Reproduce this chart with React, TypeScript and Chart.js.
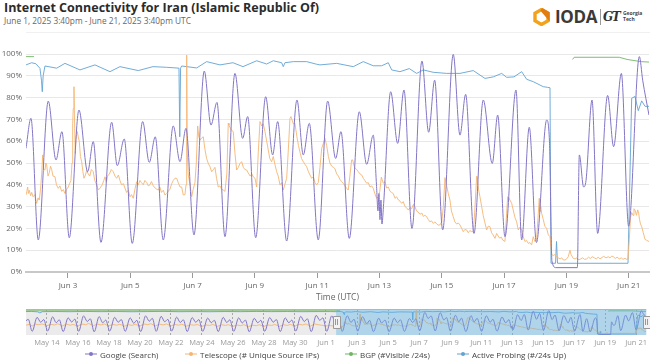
import React, { useEffect, useRef } from "react";
import { Chart, registerables } from "chart.js";
Chart.register(...registerables);

const FONT = "'Open Sans', 'Noto Sans', sans-serif";
const PURPLE = "#8376c6";
const ORANGE = "#f5b673";
const GREEN = "#72b562";
const BLUE = "#62a3d2";

// x values: days since 2025-06-01 00:00 UTC
const X_MIN = 0.6528; // Jun 1 15:40
const X_MAX = 20.6528; // Jun 21 15:40

const googleDays = [0.652, 0.812, 1.047, 1.368, 1.615, 1.807, 2.042, 2.353, 2.632, 2.812, 3.059, 3.403, 3.583, 3.807, 4.064, 4.398, 4.61, 4.803, 5.059, 5.38, 5.596, 5.788, 6.045, 6.376, 6.591, 6.783, 7.04, 7.361, 7.608, 7.769, 8.026, 8.347, 8.571, 8.732, 9.021, 9.352, 9.554, 9.747, 10.035, 10.337, 10.594, 10.764, 11.031, 11.352, 11.589, 11.801, 11.904, 11.952, 11.984, 12.016, 12.048, 12.08, 12.128, 12.36, 12.584, 12.787, 13.043, 13.364, 13.579, 13.772, 14.029, 14.369, 14.584, 14.767, 15.034, 15.332, 15.621, 15.795, 16.029, 16.383, 16.565, 16.809, 17.04, 17.368, 17.457, 17.537, 17.666, 18.352, 18.416, 18.554, 18.631, 18.824, 19.004, 19.325, 19.517, 19.765, 19.999, 20.343, 20.45, 20.652];
const googleValues = [56.7, 70.5, 14.7, 78.4, 51.4, 64.4, 15.7, 74.3, 46, 59.8, 13.6, 68.7, 48.8, 61, 13.1, 69, 50.3, 62, 14.7, 67, 50.6, 65.9, 17, 92.2, 67.4, 77.8, 16.2, 91.1, 61.3, 71.3, 15.7, 80.4, 53.7, 69, 14.2, 78.9, 53.7, 68.2, 14.7, 78.4, 52.1, 64.4, 15.4, 73.5, 49.4, 62.8, 40, 28, 36, 24, 33, 22, 30, 82.7, 59, 83.5, 20, 96.8, 64.1, 88, 19.3, 99.8, 62.8, 81.5, 17.7, 78.9, 49.8, 72, 16.2, 83.5, 14.7, 66.4, 13.5, 69.7, 60, 5, 2, 2, 53.7, 39, 42, 78.9, 17.7, 81, 57.5, 91.1, 21, 98.8, 88, 72];

const telescopeDays = [0.652, 0.68, 0.706, 0.73, 0.758, 0.8, 0.835, 0.88, 0.941, 0.97, 0.995, 1.04, 1.079, 1.12, 1.156, 1.188, 1.22, 1.262, 1.29, 1.316, 1.36, 1.4, 1.44, 1.477, 1.52, 1.583, 1.63, 1.689, 1.74, 1.798, 1.85, 1.904, 1.96, 2.01, 2.05, 2.096, 2.13, 2.151, 2.17, 2.193, 2.215, 2.234, 2.26, 2.299, 2.33, 2.363, 2.4, 2.44, 2.48, 2.514, 2.56, 2.6, 2.652, 2.7, 2.75, 2.812, 2.86, 2.92, 2.973, 3.03, 3.1, 3.15, 3.19, 3.23, 3.27, 3.33, 3.39, 3.454, 3.51, 3.563, 3.62, 3.669, 3.72, 3.78, 3.83, 3.88, 3.94, 3.99, 4.04, 4.096, 4.15, 4.205, 4.26, 4.311, 4.36, 4.417, 4.47, 4.53, 4.58, 4.632, 4.68, 4.74, 4.8, 4.848, 4.899, 4.95, 5.0, 5.06, 5.114, 5.169, 5.22, 5.275, 5.33, 5.38, 5.435, 5.49, 5.54, 5.596, 5.65, 5.702, 5.756, 5.79, 5.811, 5.83, 5.862, 5.92, 5.971, 6.02, 6.077, 6.12, 6.164, 6.2, 6.238, 6.292, 6.344, 6.4, 6.453, 6.5, 6.559, 6.613, 6.67, 6.719, 6.77, 6.825, 6.88, 6.93, 6.986, 7.04, 7.1, 7.146, 7.169, 7.21, 7.255, 7.307, 7.361, 7.416, 7.47, 7.522, 7.576, 7.63, 7.68, 7.737, 7.788, 7.85, 7.9, 7.949, 8.003, 8.058, 8.11, 8.164, 8.22, 8.27, 8.324, 8.38, 8.43, 8.48, 8.539, 8.591, 8.65, 8.7, 8.75, 8.806, 8.86, 8.912, 8.96, 9.021, 9.07, 9.127, 9.159, 9.233, 9.287, 9.35, 9.4, 9.448, 9.5, 9.56, 9.608, 9.663, 9.72, 9.77, 9.823, 9.875, 9.93, 9.984, 10.035, 10.09, 10.145, 10.2, 10.25, 10.305, 10.36, 10.41, 10.47, 10.52, 10.571, 10.626, 10.68, 10.73, 10.78, 10.838, 10.89, 10.947, 10.998, 11.05, 11.107, 11.14, 11.18, 11.213, 11.27, 11.32, 11.374, 11.43, 11.48, 11.53, 11.589, 11.64, 11.694, 11.75, 11.801, 11.85, 11.91, 11.961, 12.01, 12.06, 12.122, 12.177, 12.23, 12.283, 12.34, 12.39, 12.443, 12.498, 12.55, 12.61, 12.66, 12.713, 12.764, 12.82, 12.87, 12.925, 12.98, 13.033, 13.09, 13.139, 13.19, 13.24, 13.3, 13.36, 13.41, 13.46, 13.515, 13.57, 13.621, 13.67, 13.727, 13.78, 13.84, 13.89, 13.942, 14.0, 14.05, 14.103, 14.15, 14.209, 14.263, 14.31, 14.369, 14.42, 14.478, 14.53, 14.584, 14.64, 14.69, 14.74, 14.798, 14.85, 14.9, 14.96, 15.011, 15.06, 15.12, 15.139, 15.18, 15.226, 15.281, 15.33, 15.387, 15.441, 15.49, 15.547, 15.6, 15.65, 15.708, 15.762, 15.81, 15.86, 15.91, 15.955, 16.029, 16.07, 16.116, 16.135, 16.19, 16.244, 16.3, 16.35, 16.404, 16.456, 16.51, 16.565, 16.62, 16.671, 16.72, 16.777, 16.83, 16.885, 16.937, 16.99, 17.046, 17.09, 17.13, 17.152, 17.18, 17.207, 17.26, 17.31, 17.367, 17.421, 17.475, 17.5, 17.53, 17.58, 17.63, 17.69, 17.74, 17.8, 17.85, 17.902, 17.957, 18.01, 18.06, 18.117, 18.15, 18.223, 18.28, 18.34, 18.4, 18.46, 18.52, 18.58, 18.653, 18.71, 18.77, 18.83, 18.9, 18.96, 19.02, 19.08, 19.14, 19.2, 19.27, 19.347, 19.4, 19.46, 19.507, 19.57, 19.63, 19.7, 19.76, 19.82, 19.88, 19.936, 19.98, 20.02, 20.06, 20.097, 20.14, 20.17, 20.203, 20.25, 20.29, 20.32, 20.35, 20.38, 20.418, 20.47, 20.524, 20.58, 20.652];
const telescopeValues = [35.3, 37, 39, 36, 37.5, 35, 36.5, 34.5, 35.5, 33, 31.5, 34, 33, 38, 45, 53.7, 47, 46.8, 50, 49, 44, 45.5, 48.5, 47, 44, 43.7, 40, 38.4, 39.5, 37, 37.8, 36, 38, 39, 40.5, 42, 50, 68, 75, 85, 66, 54.4, 62, 64.4, 62, 60, 53, 50.6, 46, 43, 44.5, 46.5, 45, 44, 47, 46, 42, 40, 37.6, 38.5, 40, 42, 43.7, 41, 44, 45, 47, 46, 44, 43, 44.5, 42, 40, 40.5, 38.5, 36.5, 37.5, 34.5, 35.5, 33.8, 38, 41.4, 40, 42, 41, 40, 42, 41, 39.5, 40, 41.5, 39.5, 38.5, 38, 37.6, 39, 36.5, 37.5, 35.3, 36, 37, 38, 40.5, 42, 43, 43, 41, 39, 39, 35.3, 35.5, 40, 99.5, 55, 44.5, 40, 34.5, 38, 41, 50, 67, 62, 60.5, 61.5, 62, 56, 52, 50, 48.3, 46, 47, 48, 43, 39, 39.5, 38, 37.6, 37, 45, 68.2, 67.4, 66, 65, 64.4, 54.4, 46.8, 48, 49.8, 50.6, 48, 47, 46.8, 45.4, 44, 45, 43.7, 43, 39, 55, 69, 67, 68, 64.4, 60, 56, 52, 50.6, 53, 49, 46, 44, 40, 41, 37.6, 40, 43, 55, 70.5, 71.3, 68, 68.2, 62, 58, 55, 52, 50.5, 49.4, 48.3, 46, 44.5, 43, 43.7, 41, 40, 41, 48, 56.7, 59, 61.3, 58, 53, 50, 48.5, 48, 47.4, 45, 44, 42.5, 41.5, 40.7, 39.5, 38.4, 37.6, 44, 51.4, 51.4, 49, 47.6, 47, 46, 45, 44.5, 43, 42, 40.7, 41, 39, 39.5, 38.4, 36, 33.8, 34.5, 37, 43.5, 40.7, 41.4, 38.5, 39, 37, 36.5, 36, 33.8, 34.5, 33, 32.5, 31.5, 32.3, 30, 29.5, 28.4, 29.5, 29, 31, 30, 28, 27.5, 26.5, 27, 25.5, 26, 25.4, 24, 23, 23.5, 22.3, 23, 22, 21.5, 21.6, 23, 30, 43.3, 40, 36, 33, 28, 25.4, 23, 22, 22.5, 21.6, 20, 18.5, 19.5, 19.3, 18, 19, 18.5, 18.5, 28, 44, 43.7, 38, 34.5, 30, 26, 22.5, 19.3, 21, 20.8, 18, 17, 15.4, 17.7, 16.5, 15.5, 16, 14.7, 14, 24, 34.5, 34.5, 33, 31.5, 28, 25, 23, 19.3, 20.5, 19.3, 16, 14, 14.5, 13.1, 13.5, 12.4, 16.2, 14, 15, 25, 33.8, 27.7, 30, 26.9, 24, 21, 20, 17, 16.2, 12, 8, 7.5, 8, 7, 6.5, 6, 6.5, 5.5, 5.5, 6, 7, 10, 8, 6.2, 6, 6.5, 5.5, 6, 6.5, 5.8, 6, 6.8, 6.2, 7, 6.5, 6, 6.8, 6, 6.6, 7.2, 6.5, 7, 6.5, 7.3, 7, 6.2, 6.8, 6, 6.5, 5.8, 6.3, 5.8, 6, 15, 25, 27.3, 26, 29, 28.4, 26, 28.5, 27, 24, 22, 20.8, 18, 15, 14.5, 14];

const bgpDays = [0.652, 0.908, 0.95, 18.2, 18.25, 19.7, 19.95, 20.4, 20.652];
const bgpValues = [98.8, 98.8, null, 97.5, 98.5, 98.5, 97.5, 96.5, 96.3];

const probingDays = [0.652, 0.835, 0.973, 1.101, 1.149, 1.175, 1.204, 1.262, 1.637, 1.904, 2.385, 2.867, 3.348, 3.669, 4.257, 4.729, 5.169, 5.564, 5.589, 5.615, 5.65, 6.132, 6.453, 6.88, 7.297, 7.618, 8.058, 8.379, 8.591, 8.86, 8.912, 8.966, 9.233, 9.663, 9.984, 10.09, 10.626, 11.159, 11.48, 11.801, 12.071, 12.283, 12.392, 12.658, 12.957, 13.194, 13.406, 13.727, 14.157, 14.584, 15.011, 15.387, 15.653, 15.923, 16.083, 16.318, 16.565, 16.725, 16.937, 17.258, 17.399, 17.475, 17.507, 17.652, 17.684, 17.716, 19.979, 20.097, 20.203, 20.309, 20.418, 20.524, 20.652];
const probingValues = [95, 96, 95.5, 93.4, 88, 82.7, 90, 94.5, 93.5, 95.7, 92.7, 95, 91.9, 94.2, 92.4, 94.2, 93.9, 93.5, 62, 93.5, 94.5, 93.6, 96.5, 95, 96, 94.2, 96.9, 95.4, 96.9, 96, 94.2, 96, 96.5, 96.5, 95.3, 95, 95.7, 94.2, 96.5, 94.6, 94.6, 96, 92.7, 91.9, 93.3, 91.1, 92.7, 91.6, 91.1, 91.1, 92.4, 88.8, 89.5, 91.1, 89.3, 89.5, 91.9, 88.4, 87.3, 85, 84.7, 84.5, 4, 4, 14, 4, 4, 79.7, 80.5, 74, 78.5, 76, 76];

const xTickDays = [2, 4, 6, 8, 10, 12, 14, 16, 18, 20];
const xTickLabels = ["Jun 3", "Jun 5", "Jun 7", "Jun 9", "Jun 11", "Jun 13", "Jun 15", "Jun 17", "Jun 19", "Jun 21"];

// Navigator (May 12 15:40 -> Jun 1), joined to the main series
const NAV_MIN = -19.3472;
const navGoogleDays = [-19.35, -19.2, -18.95, -18.63, -18.4, -18.2, -17.95, -17.63, -17.4, -17.2, -16.95, -16.63, -16.4, -16.2, -15.95, -15.63, -15.4, -15.2, -14.95, -14.63, -14.4, -14.2, -13.95, -13.63, -13.4, -13.2, -12.95, -12.63, -12.4, -12.2, -11.95, -11.63, -11.4, -11.2, -10.95, -10.63, -10.4, -10.2, -9.95, -9.63, -9.4, -9.2, -8.95, -8.63, -8.4, -8.2, -7.95, -7.63, -7.4, -7.2, -6.95, -6.63, -6.4, -6.2, -5.95, -5.63, -5.4, -5.2, -4.95, -4.63, -4.4, -4.2, -3.95, -3.63, -3.4, -3.2, -2.95, -2.63, -2.4, -2.2, -1.95, -1.63, -1.4, -1.2, -0.95, -0.63, -0.4, -0.2, 0.05, 0.37, 0.6];
const navGoogleValues = [58, 64, 15, 72, 52, 63, 16, 74, 50, 62, 14, 70, 53, 65, 15, 78, 55, 66, 13, 75, 50, 61, 16, 72, 52, 63, 15, 70, 48, 60, 14, 78, 56, 68, 15, 76, 54, 64, 16, 73, 51, 62, 14, 71, 52, 63, 15, 69, 50, 60, 14, 72, 51, 62, 15, 70, 49, 61, 13, 68, 50, 60, 15, 71, 52, 63, 14, 70, 50, 61, 16, 76, 55, 66, 14, 80, 60, 70, 15, 78, 54];
const navTelescopeDays = [-19.35, -19.15, -18.95, -18.75, -18.55, -18.3, -18.0, -17.75, -17.5, -17.3, -17.0, -16.75, -16.5, -16.3, -16.0, -15.75, -15.5, -15.3, -15.0, -14.75, -14.5, -14.3, -14.0, -13.75, -13.5, -13.3, -13.0, -12.75, -12.5, -12.3, -12.0, -11.75, -11.5, -11.3, -11.0, -10.75, -10.5, -10.3, -10.0, -9.75, -9.5, -9.3, -9.0, -8.75, -8.5, -8.3, -8.0, -7.75, -7.5, -7.3, -7.0, -6.75, -6.5, -6.3, -6.0, -5.75, -5.5, -5.3, -5.0, -4.75, -4.5, -4.3, -4.0, -3.75, -3.5, -3.3, -3.0, -2.75, -2.5, -2.3, -2.0, -1.75, -1.5, -1.3, -1.0, -0.75, -0.5, -0.3, 0.0, 0.3];
const navTelescopeValues = [40, 43, 37, 44, 42, 45, 38, 43, 41, 46, 37, 44, 40, 43, 36, 45, 42, 47, 38, 44, 41, 45, 37, 43, 40, 44, 36, 42, 39, 44, 36, 45, 42, 46, 37, 44, 41, 45, 37, 43, 40, 44, 36, 42, 40, 43, 35, 41, 39, 43, 35, 42, 39, 42, 35, 41, 38, 42, 34, 40, 38, 42, 35, 41, 39, 43, 35, 42, 39, 43, 36, 44, 41, 45, 36, 45, 42, 40, 37, 38];
const navProbingDays = [-19.35, -19.0, -18.6, -18.45, -18.3, -17.5, -16.5, -15.5, -14.5, -13.5, -12.5, -11.5, -10.5, -9.5, -8.5, -7.5, -6.5, -5.5, -4.5, -3.5, -2.5, -1.5, -0.5, 0.3];
const navProbingValues = [95.5, 96, 94.5, 90, 95, 95.8, 95, 96, 95.2, 95.8, 94.8, 95.5, 96.2, 95, 95.6, 94.9, 95.7, 95.2, 96, 95.3, 95.8, 95, 95.6, 95.5];
const navBgpDays = [-19.35, -15, -10, -5, 0.5];
const navBgpValues = [98.6, 98.6, 98.4, 98.6, 98.6];

const navTickDays = [-18, -16, -14, -12, -10, -8, -6, -4, -2, 0, 2, 4, 6, 8, 10, 12, 14, 16, 18, 20];
const navTickLabels = ["May 14", "May 16", "May 18", "May 20", "May 22", "May 24", "May 26", "May 28", "May 30", "Jun 1", "Jun 3", "Jun 5", "Jun 7", "Jun 9", "Jun 11", "Jun 13", "Jun 15", "Jun 17", "Jun 19", "Jun 21"];

const legendItems = [
  { label: "Google (Search)", color: PURPLE, left: 85 },
  { label: "Telescope (# Unique Source IPs)", color: ORANGE, left: 185 },
  { label: "BGP (#Visible /24s)", color: GREEN, left: 345 },
  { label: "Active Probing (#/24s Up)", color: BLUE, left: 457 },
];

function pts(days: number[], vals: (number | null)[]) {
  return days.map((d, i) => ({ x: d, y: vals[i] }));
}

const navPlugin = {
  id: "navShade",
  beforeDraw(chart: any) {
    const { ctx, chartArea: a } = chart;
    ctx.save();
    ctx.fillStyle = "#ebebeb";
    ctx.fillRect(a.left, a.top, a.right - a.left, a.bottom - a.top);
    ctx.restore();
  },
  afterDatasetsDraw(chart: any) {
    const { ctx, chartArea: a, scales } = chart;
    const sx = scales.x.getPixelForValue(X_MIN);
    const ex = scales.x.getPixelForValue(X_MAX);
    ctx.save();
    ctx.fillStyle = "rgba(95,180,230,0.42)";
    ctx.fillRect(sx, a.top, ex - sx, a.bottom - a.top);
    ctx.strokeStyle = "#b5b5b5";
    ctx.lineWidth = 1;
    ctx.beginPath();
    ctx.moveTo(a.left, a.top + 0.5);
    ctx.lineTo(a.right, a.top + 0.5);
    ctx.stroke();
    const my = (a.top + a.bottom) / 2;
    [sx, ex].forEach((hx: number) => {
      ctx.fillStyle = "#f2f2f2";
      ctx.strokeStyle = "#999";
      ctx.beginPath();
      ctx.rect(Math.round(hx - 3.5) + 0.5, Math.round(my - 6) + 0.5, 7, 12);
      ctx.fill();
      ctx.stroke();
      ctx.beginPath();
      ctx.moveTo(Math.round(hx) - 1 + 0.5, my - 3);
      ctx.lineTo(Math.round(hx) - 1 + 0.5, my + 3);
      ctx.moveTo(Math.round(hx) + 1 + 0.5, my - 3);
      ctx.lineTo(Math.round(hx) + 1 + 0.5, my + 3);
      ctx.stroke();
    });
    ctx.restore();
  },
};

export default function App() {
  const mainRef = useRef<HTMLCanvasElement>(null);
  const navRef = useRef<HTMLCanvasElement>(null);

  useEffect(() => {
    const lineDs = (label: string, data: any, color: string, width: number, extra: any = {}) => ({
      label,
      data,
      borderColor: color,
      backgroundColor: color,
      borderWidth: width,
      pointRadius: 0,
      fill: false,
      spanGaps: false,
      ...extra,
    });

    const main = new Chart(mainRef.current!, {
      type: "line",
      data: {
        datasets: [
          lineDs("Google (Search)", pts(googleDays, googleValues), PURPLE, 1, { cubicInterpolationMode: "monotone" }),
          lineDs("Telescope (# Unique Source IPs)", pts(telescopeDays, telescopeValues), ORANGE, 0.9, { tension: 0 }),
          lineDs("BGP (#Visible /24s)", pts(bgpDays, bgpValues), GREEN, 0.9, { tension: 0 }),
          lineDs("Active Probing (#/24s Up)", pts(probingDays, probingValues), BLUE, 0.9, { tension: 0 }),
        ],
      },
      options: {
        animation: false,
        responsive: false,
        maintainAspectRatio: false,
        layout: { padding: { top: 14, right: 1, left: 0, bottom: 0 } },
        plugins: { legend: { display: false }, tooltip: { enabled: false } },
        scales: {
          x: {
            type: "linear",
            min: X_MIN,
            max: X_MAX,
            afterBuildTicks: (s: any) => {
              s.ticks = xTickDays.map((v) => ({ value: v }));
            },
            afterFit: (s: any) => {
              s.height = 34;
            },
            ticks: {
              autoSkip: false,
              maxRotation: 0,
              padding: 3,
              color: "#666",
              font: { size: 8, family: FONT },
              callback: (v: any) => xTickLabels[xTickDays.indexOf(v)] ?? "",
            },
            grid: { drawOnChartArea: false, drawTicks: true, tickLength: 6, color: "#999" },
            border: { display: true, color: "#c8c8c8", width: 2 },
            title: {
              display: true,
              text: "Time (UTC)",
              color: "#666",
              font: { size: 8.5, family: FONT },
              padding: { top: 0, bottom: 3 },
            },
          },
          y: {
            min: 0,
            max: 100,
            afterFit: (s: any) => {
              s.width = 26;
            },
            ticks: {
              stepSize: 10,
              padding: 4,
              color: "#666",
              font: { size: 8, family: FONT },
              callback: (v: any) => v + "%",
            },
            grid: { color: "#e8e8e8", drawTicks: false },
            border: { display: false },
          },
        },
      },
    } as any);

    const nav = new Chart(navRef.current!, {
      type: "line",
      data: {
        datasets: [
          lineDs("Google (Search)", pts([...navGoogleDays, ...googleDays], [...navGoogleValues, ...googleValues]), PURPLE, 1, { cubicInterpolationMode: "monotone" }),
          lineDs("Telescope", pts([...navTelescopeDays, ...telescopeDays], [...navTelescopeValues, ...telescopeValues]), ORANGE, 0.9, { tension: 0 }),
          lineDs("BGP", pts([...navBgpDays, ...bgpDays], [...navBgpValues, ...bgpValues]), GREEN, 0.9, { tension: 0 }),
          lineDs("Active Probing", pts([...navProbingDays, ...probingDays], [...navProbingValues, ...probingValues]), BLUE, 0.9, { tension: 0 }),
        ],
      },
      options: {
        animation: false,
        responsive: false,
        maintainAspectRatio: false,
        layout: { padding: { top: 4, right: 1, left: 26, bottom: 0 } },
        plugins: { legend: { display: false }, tooltip: { enabled: false } },
        scales: {
          x: {
            type: "linear",
            min: NAV_MIN,
            max: X_MAX,
            afterBuildTicks: (s: any) => {
              s.ticks = navTickDays.map((v) => ({ value: v }));
            },
            afterFit: (s: any) => {
              s.height = 15;
            },
            ticks: {
              autoSkip: false,
              maxRotation: 0,
              padding: 3,
              color: "#9a9a9a",
              font: { size: 7.5, family: FONT },
              callback: (v: any) => navTickLabels[navTickDays.indexOf(v)] ?? "",
            },
            grid: { drawOnChartArea: true, drawTicks: false, color: "#a8a8a8", lineWidth: 1 },
            border: { display: false, dash: [2, 2] },
          },
          y: { display: false, min: 0, max: 106 },
        },
      },
      plugins: [navPlugin],
    } as any);

    return () => {
      main.destroy();
      nav.destroy();
    };
  }, []);

  return (
    <div style={{ position: "fixed", left: 0, top: 0, width: 650, height: 364, background: "#fff", fontFamily: FONT, overflow: "hidden" }}>
      <div style={{ position: "absolute", left: 4, top: 0, fontSize: 12.5, fontWeight: 700, color: "#2b2b2b", lineHeight: "16px", whiteSpace: "nowrap" }}>
        Internet Connectivity for Iran (Islamic Republic Of)
      </div>
      <div style={{ position: "absolute", left: 4, top: 15, fontSize: 8.3, color: "#666", lineHeight: "11px", whiteSpace: "nowrap" }}>
        June 1, 2025 3:40pm - June 21, 2025 3:40pm UTC
      </div>
      <div style={{ position: "absolute", left: 26, top: 32, width: 624, height: 0, borderTop: "1px solid #f0f0f0" }} />
      {/* logos */}
      <svg style={{ position: "absolute", left: 533, top: 8 }} width={17} height={18} viewBox="0 0 17 18">
        <polygon points="8.5,1.5 15,5.2 15,12.8 8.5,16.5 2,12.8 2,5.2" fill="none" stroke="#f2a21b" strokeWidth={3.4} />
        <polygon points="8.5,1.5 15,5.2 15,9" fill="none" stroke="#e07f10" strokeWidth={3.4} />
      </svg>
      <div style={{ position: "absolute", left: 555, top: 6, fontSize: 17, fontWeight: 700, color: "#3a3a3a", lineHeight: "22px", letterSpacing: -0.3 }}>IODA</div>
      <div style={{ position: "absolute", left: 600, top: 9, width: 1, height: 16, background: "#9a9a9a" }} />
      <div style={{ position: "absolute", left: 603, top: 8, fontSize: 12, fontWeight: 700, color: "#333", lineHeight: "18px", fontFamily: "'DejaVu Serif', serif", fontStyle: "italic", letterSpacing: -1.5 }}>GT</div>
      <div style={{ position: "absolute", left: 623, top: 11, fontSize: 5, color: "#444", lineHeight: "5.5px", fontWeight: 700 }}>
        Georgia<br />Tech
      </div>
      <canvas ref={mainRef} width={650} height={266} style={{ position: "absolute", left: 0, top: 40, width: 650, height: 266 }} />
      <canvas ref={navRef} width={650} height={45} style={{ position: "absolute", left: 0, top: 305, width: 650, height: 45 }} />
      {legendItems.map((it) => (
        <div key={it.label} style={{ position: "absolute", left: it.left, top: 348, height: 12, display: "flex", alignItems: "center", whiteSpace: "nowrap" }}>
          <svg width={12} height={8} style={{ marginRight: 3 }}>
            <line x1={0} y1={4} x2={12} y2={4} stroke={it.color} strokeWidth={1} />
            <circle cx={6} cy={4} r={2} fill={it.color} />
          </svg>
          <span style={{ fontSize: 8, color: "#444" }}>{it.label}</span>
        </div>
      ))}
    </div>
  );
}
